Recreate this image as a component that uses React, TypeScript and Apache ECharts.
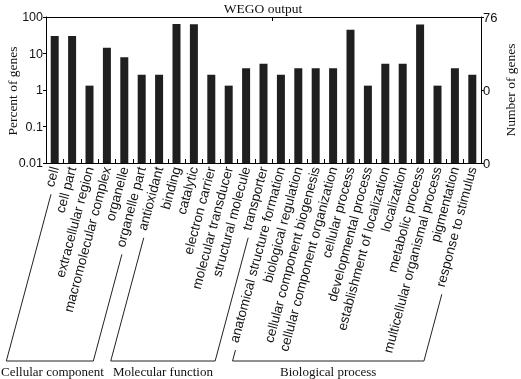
import React, { useEffect, useRef } from 'react';
import * as echarts from 'echarts';

// GO terms, in plotting order
const categories = [
  'cell', 'cell part', 'extracellular region', 'macromolecular complex', 'organelle', 'organelle part',
  'antioxidant', 'binding', 'catalytic', 'electron carrier', 'molecular transducer', 'structural molecule', 'transporter',
  'anatomical structure formation', 'biological regulation', 'cellular component biogenesis',
  'cellular component organization', 'cellular process', 'developmental process',
  'establishment of localization', 'localization', 'metabolic process',
  'multicellular organismal process', 'pigmentation', 'response to stimulus',
];

// number of annotated genes per term
const geneCounts = [
  23, 23, 1, 11, 6, 2,
  2, 49, 48, 2, 1, 3, 4,
  2, 3, 3, 3, 34, 1, 4, 4, 47, 1, 3, 2,
];

const totalGenes = 76;

// GO ontologies and how many consecutive terms belong to each
const groupNames = ['Cellular component', 'Molecular function', 'Biological process'];
const groupSizes = [6, 7, 12];

const SANS = '"Liberation Sans", Arial, sans-serif';
const SERIF = '"Liberation Serif", "Times New Roman", serif';
const LABEL_SIZE = 13.5;
const LABEL_ROTATE = 75;
const LABEL_MARGIN = 4;
const BRACKET_Y = 361;
const GROUP_FONT = `13px ${SERIF}`;

export default function App() {
  const ref = useRef<HTMLDivElement>(null);

  useEffect(() => {
    const chart = echarts.init(ref.current!, null, { renderer: 'svg' });
    const percents = geneCounts.map((n) => (n / totalGenes) * 100);

    const axisLineStyle = { color: '#000', width: 1 };

    chart.setOption({
      animation: false,
      grid: { left: 46, right: 40, top: 17, bottom: 216 },
      xAxis: [
        {
          type: 'category',
          data: categories,
          position: 'bottom',
          axisLine: { show: true, lineStyle: axisLineStyle },
          axisTick: { show: true, inside: true, length: 4, lineStyle: axisLineStyle },
          axisLabel: {
            interval: 0,
            rotate: LABEL_ROTATE,
            margin: LABEL_MARGIN,
            fontSize: LABEL_SIZE,
            fontFamily: SANS,
            color: '#111',
          },
        },
        {
          type: 'category',
          data: categories,
          position: 'top',
          axisLine: { show: true, lineStyle: axisLineStyle },
          axisTick: { show: true, inside: true, length: 4, lineStyle: axisLineStyle },
          axisLabel: { show: false },
        },
      ],
      yAxis: [
        {
          type: 'log',
          logBase: 10,
          min: 0.01,
          max: 100,
          startValue: 0.01,
          position: 'left',
          axisLine: { show: true, lineStyle: axisLineStyle },
          axisTick: { show: true, length: 3, lineStyle: axisLineStyle },
          splitLine: { show: false },
          axisLabel: { fontSize: 12.5, fontFamily: SANS, color: '#111', margin: 3 },
        },
        {
          type: 'log',
          logBase: 10,
          min: 0.01,
          max: 100,
          interval: 2,
          position: 'right',
          axisLine: { show: true, lineStyle: axisLineStyle },
          axisTick: { show: true, length: 3, lineStyle: axisLineStyle },
          splitLine: { show: false },
          axisLabel: {
            fontSize: 13,
            fontFamily: SANS,
            color: '#111',
            margin: 2,
            formatter: (v: number) => String(Math.floor((v * totalGenes) / 100 + 1e-9)),
          },
        },
      ],
      series: [
        {
          type: 'bar',
          xAxisIndex: 0,
          yAxisIndex: 0,
          data: percents,
          barWidth: 8,
          itemStyle: { color: '#1f1f1f' },
        },
      ],
    });

    // Brackets that tie each ontology's rotated term labels to its name
    const ctx = document.createElement('canvas').getContext('2d')!;
    const rad = (LABEL_ROTATE * Math.PI) / 180;
    const cs = Math.cos(rad);
    const sn = Math.sin(rad);
    const axisY = chart.convertToPixel({ yAxisIndex: 0 }, 0.01) as number;
    const baseOffset = 3.5;
    const gap = 7;

    const labelLine = (i: number) => {
      ctx.font = `${LABEL_SIZE}px ${SANS}`;
      const cx = chart.convertToPixel({ xAxisIndex: 0 }, i) as number;
      const ox = cx + baseOffset * sn;
      const oy = axisY + LABEL_MARGIN + baseOffset * cs;
      const t0 = ctx.measureText(categories[i]).width + gap;
      const tb = (BRACKET_Y - oy) / sn;
      return {
        top: [ox - t0 * cs, oy + t0 * sn],
        bottom: [ox - tb * cs, BRACKET_Y],
      };
    };

    const graphic: any[] = [
      {
        type: 'text',
        x: 263,
        y: 8,
        style: { text: 'WEGO output', font: `13.5px ${SERIF}`, fill: '#111', align: 'center', verticalAlign: 'middle' },
      },
      {
        type: 'text',
        x: 12.5,
        y: 91,
        rotation: Math.PI / 2,
        style: { text: 'Percent of genes', font: `13.5px ${SERIF}`, fill: '#111', align: 'center', verticalAlign: 'middle' },
      },
      {
        type: 'text',
        x: 510,
        y: 90,
        rotation: Math.PI / 2,
        style: { text: 'Number of genes', font: `13.5px ${SERIF}`, fill: '#111', align: 'center', verticalAlign: 'middle' },
      },
    ];

    let start = 0;
    groupSizes.forEach((size, g) => {
      const first = labelLine(start);
      const last = labelLine(start + size - 1);
      graphic.push({
        type: 'polyline',
        shape: { points: [first.top, first.bottom, last.bottom, last.top] },
        style: { stroke: '#222', lineWidth: 1, fill: null },
      });
      ctx.font = GROUP_FONT;
      const half = ctx.measureText(groupNames[g]).width / 2;
      const mid = (first.bottom[0] + last.bottom[0]) / 2;
      graphic.push({
        type: 'text',
        x: Math.max(mid, half + 1),
        y: 371,
        style: { text: groupNames[g], font: GROUP_FONT, fill: '#111', align: 'center', verticalAlign: 'middle' },
      });
      start += size;
    });

    chart.setOption({ graphic });

    return () => chart.dispose();
  }, []);

  return <div ref={ref} style={{ position: 'fixed', left: 0, top: 0, width: 521, height: 379 }} />;
}
